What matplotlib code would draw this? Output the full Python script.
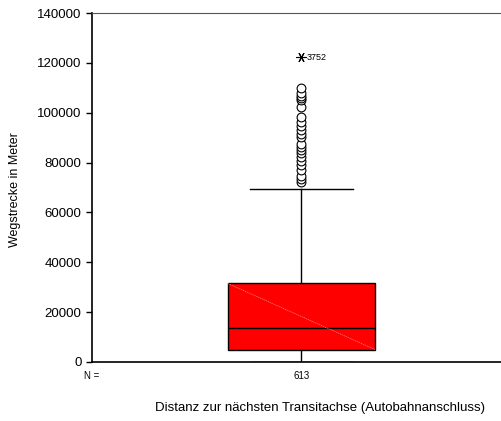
import matplotlib
matplotlib.use("Agg")
import matplotlib.pyplot as plt

plt.rcParams['font.family'] = ['Liberation Sans', 'DejaVu Sans']

# Box summary for the distance to the nearest motorway junction (metres)
group_label = "613"
q1 = 5000
median = 13500
q3 = 31500
whisker_low = 200
whisker_high = 69500
outliers = [72200, 73400, 74600, 77000, 79000, 80600, 82200, 83800, 85000,
            86400, 87500, 90300, 91500, 93100, 94700, 96300, 98400, 102400,
            105000, 105900, 106700, 107900, 110000]
extreme_value = 122300
extreme_case = "3752"

y_ticks = [0, 20000, 40000, 60000, 80000, 100000, 120000, 140000]

fig = plt.figure(figsize=(5.01, 4.21), dpi=100)
ax = fig.add_axes([92 / 501, 59 / 421, 409 / 501, 349 / 421])

pos = 0.512
stats = [dict(med=median, q1=q1, q3=q3, whislo=whisker_low,
              whishi=whisker_high, fliers=[])]
ax.bxp(stats, positions=[pos], widths=0.36, patch_artist=True,
       showfliers=False,
       boxprops=dict(facecolor='#ff0000', edgecolor='black', linewidth=1.0),
       medianprops=dict(color='black', linewidth=1.0),
       whiskerprops=dict(color='black', linewidth=1.0),
       capprops=dict(color='black', linewidth=1.0),
       capwidths=0.25)

# faint diagonal across the box fill
ax.plot([pos - 0.18, pos + 0.18], [q3, q1], color='#ff8080', linewidth=0.5,
        linestyle=(0, (2, 1)), zorder=3)

ax.scatter([pos] * len(outliers), outliers, s=40, facecolors='white',
           edgecolors='black', linewidths=0.8, zorder=4)
ax.scatter([pos], [extreme_value], s=45, marker=(6, 2, 90),
           color='black', linewidths=0.8, zorder=4)
ax.annotate(extreme_case, (pos, extreme_value), xytext=(4, 0),
            textcoords='offset points', fontsize=6.5, va='center')

ax.set_xlim(0, 1)
ax.set_ylim(0, 140000)
ax.set_yticks(y_ticks)
ax.set_yticklabels([str(v) for v in y_ticks], fontsize=9.5)
ax.set_xticks([])
ax.tick_params(axis='y', direction='out', length=4, width=1)

ax.spines['right'].set_visible(False)
ax.spines['top'].set_color('#555555')
ax.spines['left'].set_linewidth(1.2)
ax.spines['bottom'].set_linewidth(1.2)

fig.text(15 / 501, 1 - 190 / 421, "Wegstrecke in Meter", fontsize=9,
         rotation=90, ha='center', va='center')
ax.text(0.0, -0.04, "N =", transform=ax.transAxes, fontsize=7,
        ha='center', va='center')
ax.text(pos, -0.04, group_label, transform=ax.transAxes, fontsize=7,
        ha='center', va='center')
fig.text(320 / 501, 1 - 408 / 421,
         "Distanz zur nächsten Transitachse (Autobahnanschluss)",
         fontsize=9.5, ha='center', va='center')

fig.savefig("out.png", dpi=100)
